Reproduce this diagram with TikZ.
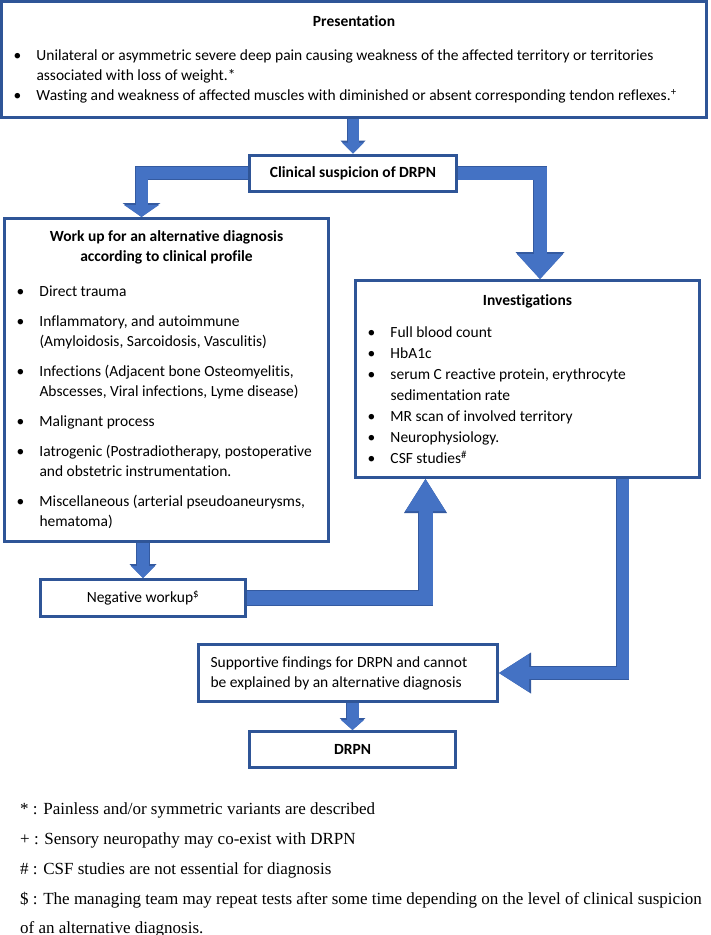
\documentclass[tikz,border=0pt]{standalone}
\usepackage{fontspec}
\setmainfont{Carlito}[Ligatures=NoCommon]
\newfontfamily\notefont{Liberation Serif}
\usetikzlibrary{arrows.meta}

\definecolor{fcEdge}{RGB}{47,85,151}
\definecolor{fcArrow}{RGB}{68,114,196}
\definecolor{fcArrowEdge}{RGB}{52,90,160}

% bullet line with hanging indent
\newcommand{\bul}[1]{\par\hangindent=23pt\hangafter=1\noindent\makebox[23pt][l]{\textbullet}#1}

\begin{document}
\begin{tikzpicture}[x=1pt, y=-1pt,
  box/.style={draw=fcEdge, line width=3pt, fill=white, inner xsep=12pt, inner ysep=0pt,
    font=\fontsize{15.5}{20}\selectfont},
  fat/.style n args={3}{draw=fcArrow, line width=#1, line join=miter,
    -{Triangle[length=#3, width=#2, line width=0pt, fill=fcArrow]},
    preaction={draw=fcArrowEdge, line width=#1+1.5pt, line join=miter,
      -{Triangle[length=#3+2pt, width=#2+3pt, line width=0pt, fill=fcArrowEdge]}}},
  note/.style={anchor=base west, inner sep=0pt, font=\notefont\fontsize{17}{30}\selectfont}]

  \fill[white] (0,0) rectangle (710,935);
  \useasboundingbox (0,0) rectangle (710,935);

  % ---- boxes ----
  \node[box, text width=681pt, minimum height=116pt, align=flush left] (pres) at (354,59.5) {%
    {\centering\bfseries Presentation\par}\vspace{14pt}%
    \bul{Unilateral or asymmetric severe deep pain causing weakness of the affected territory or territories\newline associated with loss of weight.*}
    \bul{Wasting and weakness of affected muscles with diminished or absent corresponding tendon reflexes.\textsuperscript{+}}\par};

  \node[box, minimum width=207pt, minimum height=36pt, font=\fontsize{15.5}{20}\selectfont\bfseries] (clin) at (353,173) {Clinical suspicion of DRPN};

  \node[box, text width=300pt, minimum height=323pt, align=flush left] (work) at (166.5,380) {%
    {\centering\bfseries Work up for an alternative diagnosis\\according to clinical profile\par}%
    \setlength{\parskip}{10pt}\vspace{5pt}%
    \bul{Direct trauma}
    \bul{Inflammatory, and autoimmune\newline (Amyloidosis, Sarcoidosis, Vasculitis)}
    \bul{Infections (Adjacent bone Osteomyelitis,\newline Abscesses, Viral infections, Lyme disease)}
    \bul{Malignant process}
    \bul{Iatrogenic (Postradiotherapy, postoperative\newline and obstetric instrumentation.}
    \bul{Miscellaneous (arterial pseudoaneurysms,\newline hematoma)}\par};

  \node[box, text width=320pt, minimum height=197pt, align=flush left,
    font=\fontsize{15.5}{21}\selectfont] (inv) at (527.5,379) {%
    {\centering\bfseries Investigations\par}\vspace{11pt}%
    \bul{Full blood count}
    \bul{HbA1c}
    \bul{serum C reactive protein, erythrocyte\newline sedimentation rate}
    \bul{MR scan of involved territory}
    \bul{Neurophysiology.}
    \bul{CSF studies\textsuperscript{\#}}\par};

  \node[box, minimum width=205pt, minimum height=37pt] (neg) at (143,598) {Negative workup\textsuperscript{\$}};

  \node[box, text width=275pt, minimum height=57pt, align=flush left] (sup) at (348,673)
    {Supportive findings for DRPN and cannot\\be explained by an alternative diagnosis};

  \node[box, minimum width=206pt, minimum height=36pt, font=\fontsize{15.5}{20}\selectfont\bfseries] (drpn) at (352.5,749.5) {DRPN};

  % ---- block arrows ----
  \draw[fat={11pt}{22pt}{11pt}] (pres.south -| clin.north) -- (clin.north);
  \draw[fat={12pt}{35pt}{12pt}] (clin.west) -| ([xshift=-25pt]work.north);
  \draw[fat={13pt}{46pt}{25pt}] (clin.east) -| ([xshift=12.5pt]inv.north);
  \draw[fat={12pt}{24pt}{12pt}] (work.south -| neg.north) -- (neg.north);
  \draw[fat={14pt}{40pt}{32pt}] (neg.east) -| ([xshift=-102pt]inv.south);
  \draw[fat={12pt}{38pt}{30pt}] ([xshift=95pt]inv.south) |- (sup.east);
  \draw[fat={12pt}{23pt}{10pt}] (sup.south -| drpn.north) -- (drpn.north);

  % ---- footnotes ----
  \node[note] (n1) at (20,814) {* : Painless and/or symmetric variants are described};
  \node[note] (n2) at (20,844) {+ : Sensory neuropathy may co-exist with DRPN};
  \node[note] (n3) at (20,874) {\# : CSF studies are not essential for diagnosis};
  \node[note] (n4) at (20,904) {\$ : The managing team may repeat tests after some time depending on the level of clinical suspicion};
  \node[note] (n5) at (20,933) {of an alternative diagnosis.};

\end{tikzpicture}
\end{document}
